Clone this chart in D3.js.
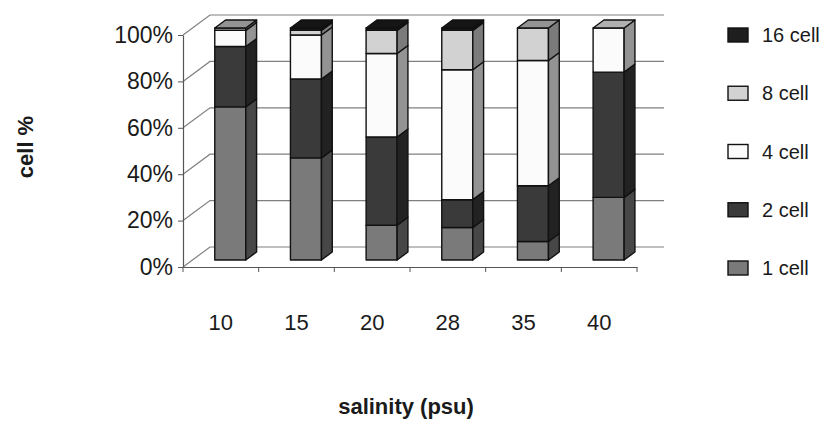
<!DOCTYPE html>
<html>
<head>
<meta charset="utf-8">
<script src="https://cdn.jsdelivr.net/npm/d3@7"></script>
<style>
  body { margin: 0; background: #fff; }
  svg { display: block; font-family: "Liberation Sans", Arial, sans-serif; }
</style>
</head>
<body>
<div id="chart"></div>
<script>
const categories = ["10", "15", "20", "28", "35", "40"];
const seriesNames = ["1 cell", "2 cell", "4 cell", "8 cell", "16 cell"];
const cell1 = [66, 44, 15, 14, 8, 27];
const cell2 = [26, 34, 38, 12, 24, 54];
const cell4 = [7, 19, 36, 56, 54, 19];
const cell8 = [1, 2, 10, 17, 14, 0];
const cell16 = [0, 1, 1, 1, 0, 0];
const yTicks = [0, 20, 40, 60, 80, 100];
const colors = ["#7a7a7a", "#3a3a3a", "#fbfbfb", "#d2d2d2", "#1e1e1e"];

const seriesValues = [cell1, cell2, cell4, cell8, cell16];

const width = 825, height = 426;
const DX = 27, DY = -20;      // depth offset of the back wall
const Z0 = 0.35, Z1 = 0.75;   // bar depth range

const svg = d3.select("#chart").append("svg")
    .attr("width", width)
    .attr("height", height);

svg.append("rect").attr("width", width).attr("height", height).attr("fill", "#fff");

const x = d3.scaleBand()
    .domain(categories)
    .range([183, 637])
    .padding(0);

const y = d3.scaleLinear()
    .domain([0, 100])
    .range([267, 35]);

// walls: side wall diagonals + back wall gridlines
const grid = svg.append("g")
    .attr("fill", "none")
    .attr("stroke", "#808080")
    .attr("stroke-width", 1.2);

grid.selectAll("path")
    .data(yTicks)
    .enter()
    .append("path")
    .attr("d", t => {
        const [x0, x1] = x.range();
        return "M" + x0 + "," + y(t) +
            "L" + (x0 + DX) + "," + (y(t) + DY) +
            "L" + (x1 + DX) + "," + (y(t) + DY);
    });

// bars
const bw = x.bandwidth() * 0.41;
const ddx = DX * (Z1 - Z0), ddy = DY * (Z1 - Z0);

const segments = [];
categories.forEach((c, i) => {
    let cum = 0;
    const vals = seriesValues.map(s => s[i]);
    let topIdx = -1;
    vals.forEach((v, k) => { if (v > 0) topIdx = k; });
    vals.forEach((v, k) => {
        if (v > 0) {
            segments.push({ cat: c, k: k, y0: cum, y1: cum + v, top: k === topIdx });
        }
        cum += v;
    });
});

const bars = svg.append("g")
    .attr("stroke", "#111")
    .attr("stroke-width", 1.4)
    .attr("stroke-linejoin", "round");

const bx = d => x(d.cat) + (x.bandwidth() - bw) / 2 + DX * Z0;
const by = v => y(v) + DY * Z0;

bars.selectAll(".seg")
    .data(segments)
    .enter()
    .append("g")
    .attr("class", "seg")
    .each(function (d) {
        const g = d3.select(this);
        const x0 = bx(d), x1 = x0 + bw;
        const yt = by(d.y1), yb = by(d.y0);
        g.append("rect")
            .attr("x", x0)
            .attr("y", yt)
            .attr("width", bw)
            .attr("height", yb - yt)
            .attr("fill", colors[d.k]);
        g.append("path")
            .attr("d", "M" + x1 + "," + yt + "L" + (x1 + ddx) + "," + (yt + ddy) +
                "L" + (x1 + ddx) + "," + (yb + ddy) + "L" + x1 + "," + yb + "Z")
            .attr("fill", d3.color(colors[d.k]).darker(1.5));
        if (d.top) {
            g.append("path")
                .attr("d", "M" + x0 + "," + yt + "L" + x1 + "," + yt +
                    "L" + (x1 + ddx) + "," + (yt + ddy) + "L" + (x0 + ddx) + "," + (yt + ddy) + "Z")
                .attr("fill", d3.color(colors[d.k]).darker(1));
        }
    });

// y axis
const yAxis = svg.append("g")
    .attr("transform", "translate(" + x.range()[0] + ",0)")
    .call(d3.axisLeft(y)
        .tickValues(yTicks)
        .tickFormat(d => d + "%")
        .tickSize(5)
        .tickSizeOuter(0)
        .tickPadding(5));

// x axis: labels at category centres, tick marks at category boundaries
const xAxis = svg.append("g")
    .attr("transform", "translate(0," + y(0) + ")")
    .call(d3.axisBottom(x)
        .tickSize(0)
        .tickSizeOuter(0)
        .tickPadding(47));

xAxis.selectAll(".bound")
    .data(d3.range(categories.length + 1))
    .enter()
    .append("line")
    .attr("class", "bound")
    .attr("x1", i => x.range()[0] + i * x.step())
    .attr("x2", i => x.range()[0] + i * x.step())
    .attr("y1", 0)
    .attr("y2", 5)
    .attr("stroke", "#555");

[yAxis, xAxis].forEach(ax => {
    ax.select(".domain").attr("stroke", "#555").attr("stroke-width", 1.2);
    ax.selectAll(".tick line").attr("stroke", "#555");
    ax.selectAll("text")
        .attr("fill", "#1a1a1a")
        .style("font-size", "22px")
        .style("font-family", "'Liberation Sans', Arial, sans-serif");
});
yAxis.selectAll("text").style("font-size", "23px");

// axis titles
svg.append("text")
    .attr("transform", "translate(33,147) rotate(-90)")
    .attr("text-anchor", "middle")
    .attr("fill", "#1a1a1a")
    .style("font-size", "22px")
    .style("font-weight", "bold")
    .text("cell %");

svg.append("text")
    .attr("x", 406)
    .attr("y", 414)
    .attr("text-anchor", "middle")
    .attr("fill", "#1a1a1a")
    .style("font-size", "22px")
    .style("font-weight", "bold")
    .text("salinity (psu)");

// legend
const legendY = d3.scalePoint()
    .domain(seriesNames.slice().reverse())
    .range([35, 268]);

const legend = svg.append("g");
const item = legend.selectAll("g")
    .data(seriesNames.map((n, k) => ({ name: n, k: k })))
    .enter()
    .append("g")
    .attr("transform", d => "translate(0," + legendY(d.name) + ")");

item.append("rect")
    .attr("x", 728)
    .attr("y", -7)
    .attr("width", 20)
    .attr("height", 14)
    .attr("fill", d => colors[d.k])
    .attr("stroke", "#111")
    .attr("stroke-width", 1.4);

item.append("text")
    .attr("x", 762)
    .attr("y", 0)
    .attr("dy", "0.36em")
    .attr("fill", "#1a1a1a")
    .style("font-size", "20px")
    .text(d => d.name);
</script>
</body>
</html>
